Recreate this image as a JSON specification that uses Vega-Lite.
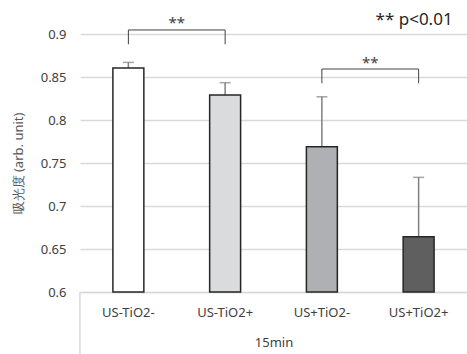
{
  "$schema": "https://vega.github.io/schema/vega-lite/v6.json",
  "width": 387,
  "height": 258,
  "autosize": "none",
  "padding": {"left": 80, "top": 34, "right": 0, "bottom": 62},
  "config": {"view": {"stroke": null}, "font": "Noto Sans"},
  "datasets": {
    "bars": [
      {"group": "US-TiO2-", "value": 0.8605, "err": 0.867},
      {"group": "US-TiO2+", "value": 0.829, "err": 0.8434},
      {"group": "US+TiO2-", "value": 0.769, "err": 0.827},
      {"group": "US+TiO2+", "value": 0.6643, "err": 0.7333}
    ],
    "brackets": [
      {"a": "US-TiO2-", "b": "US-TiO2+", "top": 0.9047, "textY": 0.907, "label": "**"},
      {"a": "US+TiO2-", "b": "US+TiO2+", "top": 0.8593, "textY": 0.8605, "label": "**"}
    ],
    "legs": [
      {"x": "US-TiO2-", "top": 0.9047, "bot": 0.888},
      {"x": "US-TiO2+", "top": 0.9047, "bot": 0.888},
      {"x": "US+TiO2-", "top": 0.8593, "bot": 0.8427},
      {"x": "US+TiO2+", "top": 0.8593, "bot": 0.8427}
    ],
    "note": [{"x": "US+TiO2+", "y": 0.9105, "label": "** p<0.01"}],
    "sep": [{"x": "US-TiO2-", "y": 0.6, "y2": 0.52}]
  },
  "resolve": {"scale": {"x": "shared"}},
  "layer": [
    {
      "data": {"name": "bars"},
      "mark": {"type": "rule", "color": "#7f7f7f", "strokeWidth": 1.5},
      "encoding": {
        "x": {
          "field": "group", "type": "nominal", "sort": null,
          "scale": {"domain": ["US-TiO2-", "US-TiO2+", "US+TiO2-", "US+TiO2+"], "paddingInner": 0.68, "paddingOuter": 0.34},
          "axis": {
            "title": "15min", "labelAngle": 0, "domainColor": "#d9d9d9", "domainWidth": 1.5,
            "ticks": false, "labelPadding": 14, "labelFontSize": 13, "labelColor": "#404040",
            "titleFontSize": 13, "titleFontWeight": "normal", "titleColor": "#404040", "titlePadding": 17
          }
        },
        "y": {
          "field": "value", "type": "quantitative",
          "scale": {"domain": [0.6, 0.9], "zero": false},
          "axis": {
            "title": "吸光度 (arb. unit)", "values": [0.6, 0.65, 0.7, 0.75, 0.8, 0.85, 0.9],
            "format": "~g", "domain": false, "ticks": false, "gridColor": "#d9d9d9", "gridWidth": 1.5,
            "labelPadding": 14, "labelFontSize": 13, "labelColor": "#404040",
            "titleFontSize": 13, "titleFontWeight": "normal", "titleColor": "#595959", "titlePadding": 15
          }
        },
        "y2": {"field": "err"}
      }
    },
    {
      "data": {"name": "bars"},
      "mark": {"type": "tick", "color": "#7f7f7f", "thickness": 1.5, "size": 11, "orient": "horizontal"},
      "encoding": {
        "x": {"field": "group", "type": "nominal", "sort": null},
        "y": {"field": "err", "type": "quantitative"}
      }
    },
    {
      "data": {"name": "bars"},
      "mark": {"type": "bar", "stroke": "#262626", "strokeWidth": 1.5},
      "encoding": {
        "x": {"field": "group", "type": "nominal", "sort": null},
        "y": {"field": "value", "type": "quantitative"},
        "y2": {"datum": 0.6},
        "color": {
          "field": "group", "type": "nominal", "legend": null,
          "scale": {"domain": ["US-TiO2-", "US-TiO2+", "US+TiO2-", "US+TiO2+"], "range": ["#ffffff", "#dadbdd", "#aeb0b3", "#5f5f5f"]}
        }
      }
    },
    {
      "data": {"name": "brackets"},
      "mark": {"type": "rule", "color": "#404040", "strokeWidth": 1},
      "encoding": {
        "x": {"field": "a", "type": "nominal", "sort": null},
        "x2": {"field": "b"},
        "y": {"field": "top", "type": "quantitative"}
      }
    },
    {
      "data": {"name": "legs"},
      "mark": {"type": "rule", "color": "#404040", "strokeWidth": 1},
      "encoding": {
        "x": {"field": "x", "type": "nominal", "sort": null},
        "y": {"field": "top", "type": "quantitative"},
        "y2": {"field": "bot"}
      }
    },
    {
      "data": {"name": "brackets"},
      "mark": {"type": "text", "fontSize": 15, "color": "#404040", "dx": 48.5, "baseline": "alphabetic"},
      "encoding": {
        "x": {"field": "a", "type": "nominal", "sort": null},
        "y": {"field": "textY", "type": "quantitative"},
        "text": {"field": "label"}
      }
    },
    {
      "data": {"name": "note"},
      "mark": {"type": "text", "fontSize": 17, "color": "#262626", "align": "right", "dx": 34, "baseline": "alphabetic"},
      "encoding": {
        "x": {"field": "x", "type": "nominal", "sort": null},
        "y": {"field": "y", "type": "quantitative"},
        "text": {"field": "label"}
      }
    },
    {
      "data": {"name": "sep"},
      "mark": {"type": "rule", "color": "#d9d9d9", "strokeWidth": 1.5, "clip": false},
      "encoding": {
        "x": {"field": "x", "type": "nominal", "sort": null, "bandPosition": 0},
        "xOffset": {"value": -33},
        "y": {"field": "y", "type": "quantitative"},
        "y2": {"field": "y2"}
      }
    }
  ]
}
